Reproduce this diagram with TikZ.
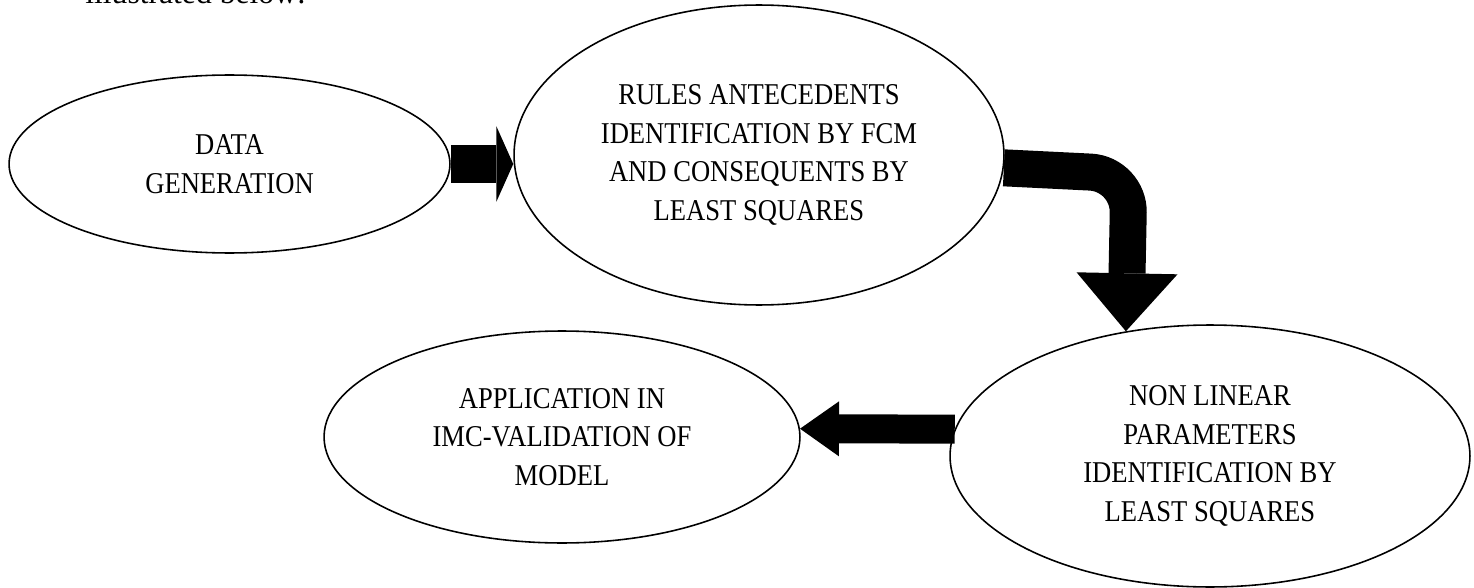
\documentclass[tikz,border=0pt]{standalone}
\usepackage{fontspec}
\setmainfont{Liberation Serif}[FakeStretch=0.88]
\newfontfamily\bodyfont{Liberation Serif}
\usetikzlibrary{shapes, arrows.meta, positioning, calc}

\begin{document}
\begin{tikzpicture}[x=0.02cm, y=-0.02cm,
    stage/.style={draw, ellipse, line width=0.9pt, inner sep=0pt, align=center,
                  font=\fontsize{17.2}{22}\selectfont},
    bigarrow/.style n args={3}{line width=#1,
                  -{Triangle[length=#2, width=#3, line width=0pt]}}]
    \useasboundingbox (0,0) rectangle (1474,588);

    % last line of the paragraph above, cut off by the page
    \node[anchor=base west, inner sep=0pt, font=\bodyfont\fontsize{18}{22}\selectfont]
        (intro) at (85,4) {illustrated below:};

    \node[stage, minimum width=8.82cm, minimum height=3.56cm] (data) at (229.5,164)
        {DATA\\GENERATION};
    \node[stage, minimum width=9.8cm, minimum height=6cm] (rules) at (759,155)
        {RULES ANTECEDENTS\\IDENTIFICATION BY FCM\\AND CONSEQUENTS BY\\LEAST SQUARES};
    \node[stage, minimum width=10.4cm, minimum height=5.24cm] (params) at (1210,456)
        {NON LINEAR\\PARAMETERS\\IDENTIFICATION BY\\LEAST SQUARES};
    \node[stage, minimum width=9.52cm, minimum height=4.24cm] (apply) at (562,437)
        {APPLICATION IN\\IMC-VALIDATION OF\\MODEL};

    \draw[bigarrow={0.76cm}{0.34cm}{1.52cm}] (data.east) -- (data.east -| rules.west);
    \draw[bigarrow={0.74cm}{1.16cm}{2.02cm}, rounded corners=22pt]
        (rules.-3) -- (1129,174) -- (params.124);
    \draw[bigarrow={0.58cm}{0.78cm}{1.1cm}] (params.174) -- (apply.2);
\end{tikzpicture}
\end{document}
